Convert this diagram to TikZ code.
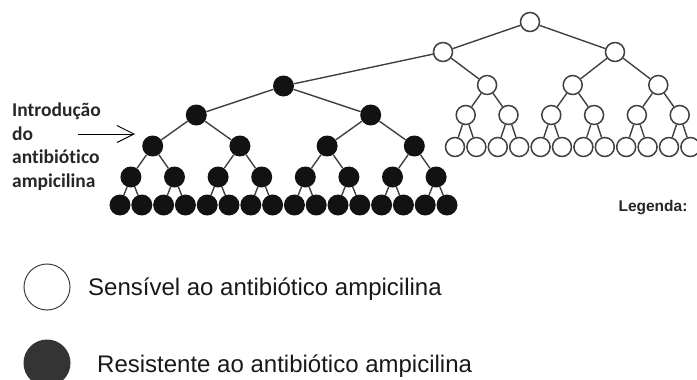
\documentclass[tikz,border=0pt]{standalone}
\usepackage{fontspec}
\setmainfont{Liberation Sans}
\newfontfamily\calibrifont[Ligatures=NoCommon]{Carlito}
\usepackage{tikz}
\usetikzlibrary{arrows.meta, positioning, calc}
\definecolor{edgegray}{RGB}{64,64,64}
\definecolor{cellblack}{RGB}{18,18,18}
\definecolor{legdark}{RGB}{52,52,52}

\begin{document}
\begin{tikzpicture}[x=1pt, y=-1pt,
  wcell/.style={circle, draw=edgegray, line width=1.5pt, fill=white,
                minimum size=19pt, inner sep=0pt},
  bcell/.style={circle, fill=cellblack, minimum size=21pt, inner sep=0pt},
  edge/.style={draw=edgegray, line width=1.4pt}]

  \useasboundingbox (0,0) rectangle (697,380);

  % sensitive population
  \node[wcell] (w)  at (530,22) {};
  \node[wcell] (wl) at (443,52) {};
  \node[wcell] (wr) at (615,52) {};
  \foreach \i in {0,...,11}
    \node[wcell] (w4-\i) at ({455+21.4*\i},147) {};
  \foreach \i [evaluate=\i as \a using int(2*\i),
               evaluate=\i as \b using int(2*\i+1)] in {0,...,5} {
    \node[wcell] (w3-\i) at ($(w4-\a)!.5!(w4-\b)+(0,-32)$) {};
    \draw[edge] (w3-\i) -- (w4-\a) (w3-\i) -- (w4-\b);
  }
  \foreach \i [evaluate=\i as \a using int(2*\i),
               evaluate=\i as \b using int(2*\i+1)] in {0,...,2} {
    \node[wcell] (w2-\i) at ($(w3-\a)!.5!(w3-\b)+(0,-30)$) {};
    \draw[edge] (w2-\i) -- (w3-\a) (w2-\i) -- (w3-\b);
  }

  % resistant population
  \foreach \i in {0,...,15}
    \node[bcell] (b4-\i) at ({120+21.8*\i},205) {};
  \foreach \i [evaluate=\i as \a using int(2*\i),
               evaluate=\i as \b using int(2*\i+1)] in {0,...,7} {
    \node[bcell] (b3-\i) at ($(b4-\a)!.5!(b4-\b)+(0,-28)$) {};
    \draw[edge] (b3-\i) -- (b4-\a) (b3-\i) -- (b4-\b);
  }
  \foreach \i [evaluate=\i as \a using int(2*\i),
               evaluate=\i as \b using int(2*\i+1)] in {0,...,3} {
    \node[bcell] (b2-\i) at ($(b3-\a)!.5!(b3-\b)+(0,-31)$) {};
    \draw[edge] (b2-\i) -- (b3-\a) (b2-\i) -- (b3-\b);
  }
  \foreach \i [evaluate=\i as \a using int(2*\i),
               evaluate=\i as \b using int(2*\i+1)] in {0,1} {
    \node[bcell] (b1-\i) at ($(b2-\a)!.5!(b2-\b)+(0,-31)$) {};
    \draw[edge] (b1-\i) -- (b2-\a) (b1-\i) -- (b2-\b);
  }
  \node[bcell] (b) at ($(b1-0)!.5!(b1-1)+(0,-29)$) {};
  \draw[edge] (b) -- (b1-0) (b) -- (b1-1);

  \draw[edge] (w) -- (wl) (w) -- (wr);
  \draw[edge] (wl) -- (b) (wl) -- (w2-0);
  \draw[edge] (wr) -- (w2-1) (wr) -- (w2-2);

  \node[anchor=north west, inner sep=0pt, align=left, text=black!85,
        font=\calibrifont\bfseries\fontsize{19.5}{23.5}\selectfont]
        (intro) at (12,103) {Introdução\\do\\antibiótico\\ampicilina};
  \coordinate (arrS) at (78,134);
  \coordinate (arrE) at (135,134);
  \draw[-{Straight Barb[length=17pt,width=17pt]}, line width=1pt] (arrS) -- (arrE);

  \node[font=\bfseries\fontsize{15.5}{18}\selectfont, text=black!85]
        (leg) at (653,208) {Legenda:};

  \node[wcell, line width=1pt, minimum size=46pt] (legS) at (47,287) {};
  \node[bcell, fill=legdark, minimum size=47pt] (legR) at (47,363) {};
  \node[anchor=base west, inner sep=0pt, text=black!90,
        font=\fontsize{24}{28}\selectfont]
        (txtS) at (88,295) {Sensível ao antibiótico ampicilina};
  \node[anchor=base west, inner sep=0pt, text=black!90,
        font=\fontsize{24}{28}\selectfont]
        (txtR) at (97,372) {Resistente ao antibiótico ampicilina};
\end{tikzpicture}
\end{document}
